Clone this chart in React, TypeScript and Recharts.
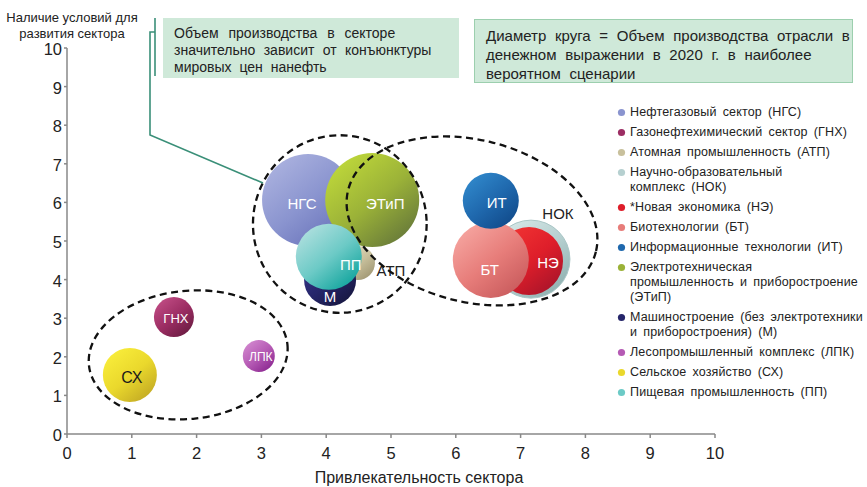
import React from 'react';
import { ScatterChart, Scatter, XAxis, YAxis, ZAxis } from 'recharts';

// ---------- data ----------
const sectorCodes = ['НГС', 'ГНХ', 'АТП', 'НОК', 'НЭ', 'БТ', 'ИТ', 'ЭТиП', 'М', 'ЛПК', 'СХ', 'ПП'];
const sectorNames = [
  'Нефтегазовый сектор (НГС)',
  'Газонефтехимический сектор (ГНХ)',
  'Атомная промышленность (АТП)',
  'Научно-образовательный\nкомплекс (НОК)',
  '*Новая экономика (НЭ)',
  'Биотехнологии (БТ)',
  'Информационные технологии (ИТ)',
  'Электротехническая\nпромышленность и приборостроение\n(ЭТиП)',
  'Машиностроение (без электротехники\nи приборостроения) (М)',
  'Лесопромышленный комплекс (ЛПК)',
  'Сельское хозяйство (СХ)',
  'Пищевая промышленность (ПП)',
];
// x: attractiveness, y: conditions, volume: relative bubble diameter
const attractiveness = [3.72, 1.65, 4.49, 7.16, 7.13, 6.54, 6.54, 4.71, 4.06, 2.96, 0.97, 4.04];
const conditions = [6.06, 3.03, 4.43, 4.53, 4.48, 4.51, 6.04, 6.06, 3.99, 2.02, 1.53, 4.59];
const volume = [92, 40, 34, 78, 68, 76, 56, 94, 52, 32, 54, 66];
const drawOrder = ['НОК', 'НЭ', 'БТ', 'ИТ', 'НГС', 'ЭТиП', 'АТП', 'М', 'ПП', 'ГНХ', 'ЛПК', 'СХ'];

const axisTicks = [0, 1, 2, 3, 4, 5, 6, 7, 8, 9, 10];
const xTitle = 'Привлекательность сектора';
const yTitle = ['Наличие условий для', 'развития сектора'];
const note1 = ['Объем производства в секторе', 'значительно зависит от конъюнктуры', 'мировых цен нанефть'];
const note2 = ['Диаметр круга = Объем производства отрасли в', 'денежном выражении в 2020 г. в наиболее', 'вероятном сценарии'];

// groups (dashed ellipses): centre in data units, radii in axis units, rotation in degrees
const groupCx = [4.21, 6.25, 1.87];
const groupCy = [5.44, 5.52, 2.05];
const groupRx = [1.34, 1.97, 1.54];
const groupRy = [2.3, 2.1, 1.66];
const groupAngle = [0, 14, -6];

// ---------- layout / style ----------
const W = 867, H = 487;
const MARGIN = { top: 48, right: 152, left: 0, bottom: 0 };
const YW = 67, XH = 53;
const PW = W - MARGIN.left - MARGIN.right - YW;
const PH = H - MARGIN.top - MARGIN.bottom - XH;
const PXX = PW / 10, PXY = PH / 10;
const SANS = "'Liberation Sans', Arial, sans-serif";

const colors: Record<string, [string, string, string]> = {
  'НГС': ['#a9b0de', '#8a94cf', '#6670b8'],
  'ГНХ': ['#be4a82', '#9c2d63', '#6a1c42'],
  'АТП': ['#e3dcc0', '#c8c09c', '#9f9672'],
  'НОК': ['#d4e6e6', '#b6d0d0', '#8fb0b0'],
  'НЭ': ['#f03232', '#de1e2a', '#a8142a'],
  'БТ': ['#f5a39e', '#e77d7a', '#c85a5c'],
  'ИТ': ['#2f86c9', '#1f68ad', '#114a8a'],
  'ЭТиП': ['#bdd63a', '#9bb238', '#66783a'],
  'М': ['#343488', '#26266a', '#17173f'],
  'ЛПК': ['#d084cd', '#b55ab4', '#8a2690'],
  'СХ': ['#f8ec3a', '#ead82c', '#c2a924'],
  'ПП': ['#acdedd', '#6ccac6', '#0fa39c'],
};

const labelStyle: Record<string, { dx: number; dy: number; fill: string; size: number }> = {
  'НГС': { dx: -6, dy: 3, fill: '#fff', size: 15 },
  'ЭТиП': { dx: 13, dy: 3, fill: '#fff', size: 15 },
  'ПП': { dx: 22, dy: 8, fill: '#fff', size: 15 },
  'М': { dx: 0, dy: 17, fill: '#fff', size: 15 },
  'АТП': { dx: 33, dy: 7, fill: '#222', size: 15 },
  'ИТ': { dx: 6, dy: 2, fill: '#fff', size: 15 },
  'БТ': { dx: -1, dy: 10, fill: '#fff', size: 15 },
  'НЭ': { dx: 19, dy: 1, fill: '#fff', size: 15 },
  'НОК': { dx: 27, dy: -46, fill: '#222', size: 15 },
  'ГНХ': { dx: 2, dy: 1, fill: '#fff', size: 13 },
  'ЛПК': { dx: 2, dy: 1, fill: '#fff', size: 12 },
  'СХ': { dx: 2, dy: 3, fill: '#1a1a1a', size: 16 },
};

const sectors = sectorCodes.map((code, i) => ({
  code,
  name: sectorNames[i],
  x: attractiveness[i],
  y: conditions[i],
  d: volume[i],
}));

const groups = groupCx.map((x, i) => ({ x, y: groupCy[i], rx: groupRx[i], ry: groupRy[i], angle: groupAngle[i] }));

const gid = (code: string) => 'g' + sectorCodes.indexOf(code);

const Bubble = (props: any) => {
  const { cx, cy, payload } = props;
  const size = typeof props.size === 'number' && props.size > 0 ? props.size : payload.d;
  const r = size / 2;
  const code = payload.code;
  const ls = labelStyle[code];
  const isNok = code === 'НОК';
  return (
    <g>
      <circle cx={cx} cy={cy} r={r} fill={`url(#${gid(code)})`} stroke={isNok ? '#a9c6c6' : 'none'} strokeWidth={isNok ? 1 : 0} />
      <text
        x={cx + ls.dx}
        y={cy + ls.dy}
        textAnchor="middle"
        dominantBaseline="central"
        fontFamily={SANS}
        fontSize={ls.size}
        fill={ls.fill}
      >
        {code}
      </text>
    </g>
  );
};

const GroupEllipse = (props: any) => {
  const { cx, cy, payload } = props;
  return (
    <ellipse
      cx={cx}
      cy={cy}
      rx={payload.rx * PXX}
      ry={payload.ry * PXY}
      transform={`rotate(${payload.angle} ${cx} ${cy})`}
      fill="none"
      stroke="#111"
      strokeWidth={2.3}
      strokeDasharray="7 4.5"
    />
  );
};

const XTick = (props: any) => {
  const { x, y, payload } = props;
  return (
    <text x={x} y={y + 7} textAnchor="middle" dominantBaseline="central" fontFamily={SANS} fontSize={16.5} fill="#222">
      {payload.value}
    </text>
  );
};
const YTick = (props: any) => {
  const { x, y, payload } = props;
  return (
    <text x={x} y={y + 1} textAnchor="end" dominantBaseline="central" fontFamily={SANS} fontSize={16.5} fill="#222">
      {payload.value}
    </text>
  );
};

const note1Spacing = [6, 4.5, 4];

export default function App() {
  const ordered = drawOrder.map((c) => sectors.find((s) => s.code === c)!);
  return (
    <div style={{ position: 'absolute', left: 0, top: 0, width: W, height: H, background: '#fff', overflow: 'hidden' }}>
      {/* annotation boxes */}
      <div
        style={{
          position: 'absolute', left: 163, top: 18, width: 296, height: 60, background: '#cfe9d9',
          boxSizing: 'border-box', padding: '6.5px 0 0 11px', fontFamily: SANS, fontSize: 14, lineHeight: '17px',
          color: '#222',
        }}
      >
        {note1.map((t, i) => <div key={i} style={{ whiteSpace: 'nowrap', wordSpacing: note1Spacing[i] }}>{t}</div>)}
      </div>
      <div
        style={{
          position: 'absolute', left: 474, top: 19, width: 379, height: 64, background: '#cfe9d9',
          border: '1px solid #9ccfae', boxSizing: 'border-box', padding: '5.5px 0 0 11px', fontFamily: SANS,
          fontSize: 15, lineHeight: '19.3px', color: '#222', wordSpacing: 4.5,
        }}
      >
        {note2.map((t, i) => <div key={i} style={{ whiteSpace: 'nowrap' }}>{t}</div>)}
      </div>
      {/* y axis title */}
      <div
        style={{
          position: 'absolute', left: 0, top: 10, width: 144, textAlign: 'center', fontFamily: SANS,
          fontSize: 13, lineHeight: '16px', color: '#222',
        }}
      >
        {yTitle.map((t, i) => <div key={i}>{t}</div>)}
      </div>

      <div style={{ position: 'absolute', left: 0, top: 0 }}>
        <ScatterChart width={W} height={H} margin={MARGIN}>
          <defs>
            {sectorCodes.map((c) => (
              <linearGradient key={c} id={gid(c)} x1="0.15" y1="0.1" x2="0.85" y2="0.95">
                <stop offset="0%" stopColor={colors[c][0]} />
                <stop offset="50%" stopColor={colors[c][1]} />
                <stop offset="100%" stopColor={colors[c][2]} />
              </linearGradient>
            ))}
          </defs>
          <XAxis
            type="number"
            dataKey="x"
            domain={[0, 10]}
            ticks={axisTicks}
            height={XH}
            tickSize={4}
            tickMargin={8}
            stroke="#888"
            strokeWidth={1.5}
            tick={<XTick />}
            interval={0}
            allowDataOverflow
            label={{ value: xTitle, position: 'insideBottom', offset: 4, dx: 28, fill: '#222', fontSize: 16, fontFamily: SANS }}
          />
          <YAxis
            type="number"
            dataKey="y"
            domain={[0, 10]}
            ticks={axisTicks}
            width={YW}
            tickSize={3}
            tickMargin={2}
            stroke="#888"
            strokeWidth={1.5}
            tick={<YTick />}
            interval={0}
            allowDataOverflow
          />
          <ZAxis type="number" dataKey="d" domain={[0, 100]} range={[0, 100]} />
          {ordered.map((s) => (
            <Scatter key={s.code} name={s.name} data={[s]} shape={Bubble} isAnimationActive={false} />
          ))}
          <Scatter name="groups" data={groups} shape={GroupEllipse} isAnimationActive={false} legendType="none" />
        </ScatterChart>
      </div>

      {/* connector from note to НГС */}
      <svg style={{ position: 'absolute', left: 0, top: 0, pointerEvents: 'none' }} width={W} height={H}>
        <polyline points="155,18 155,76" fill="none" stroke="#3a8f78" strokeWidth={1.6} />
        <polyline points="155,32 150,32 150,135 263,183" fill="none" stroke="#3a8f78" strokeWidth={1.6} />
      </svg>

      {/* legend */}
      <div style={{ position: 'absolute', left: 617, top: 105, width: 250, fontFamily: SANS, fontSize: 12.5, color: '#222' }}>
        {sectors.map((s) => (
          <div key={s.code} style={{ position: 'relative', paddingLeft: 13, marginBottom: 5, lineHeight: '15px', whiteSpace: 'pre', wordSpacing: 2.5, letterSpacing: 0.15 }}>
            <svg width={9} height={9} style={{ position: 'absolute', left: 0, top: 3 }}>
              <circle cx={4.5} cy={4.5} r={3.6} fill={colors[s.code][1]} />
            </svg>
            {s.name}
          </div>
        ))}
      </div>
    </div>
  );
}
